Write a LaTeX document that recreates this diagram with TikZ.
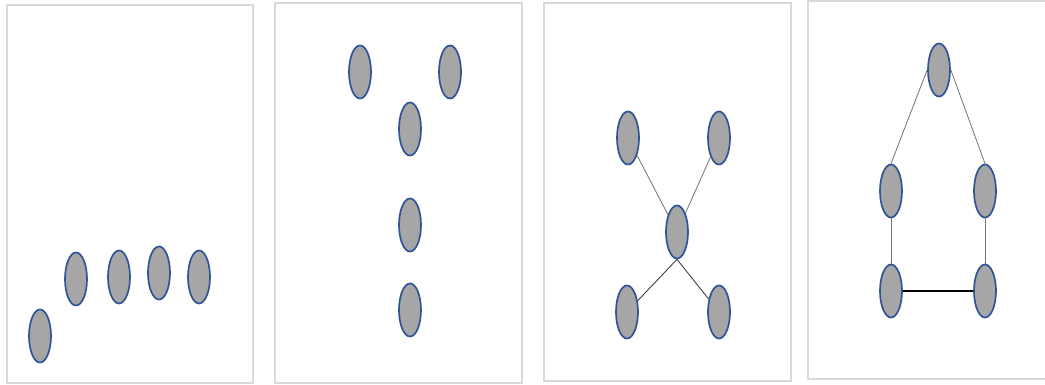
\documentclass[tikz,border=0pt]{standalone}
\usetikzlibrary{shapes.geometric}
\definecolor{panelgray}{HTML}{D9D9D9}
\definecolor{nodefill}{HTML}{A6A6A6}
\definecolor{nodeline}{HTML}{2F5597}
\begin{document}
\begin{tikzpicture}[x=1pt,y=-1pt,
  blob/.style={ellipse,draw=nodeline,fill=nodefill,line width=1.7pt,minimum width=22pt,minimum height=53pt,inner sep=0pt},
  panel/.style={draw=panelgray,line width=1.8pt},
  lite/.style={draw=black!55,line width=0.8pt},
  dark/.style={draw=black!75,line width=0.9pt},
  blk/.style={draw=black,line width=1.1pt}]
\useasboundingbox (0,0) rectangle (1045,385);
% panels
\draw[panel] (7,5) rectangle (253,383);
\draw[panel] (275,3) rectangle (522,383);
\draw[panel] (544,3) rectangle (791,381);
\draw[panel] (1050,1) -- (808,1) -- (808,379) -- (1050,379);
% panel 1
\node[blob] (a1) at (40,336) {};
\node[blob] (a2) at (76,279) {};
\node[blob] (a3) at (119,277) {};
\node[blob] (a4) at (159,273) {};
\node[blob] (a5) at (199,277) {};
% panel 2
\node[blob] (b1) at (360,72) {};
\node[blob] (b2) at (450,72) {};
\node[blob] (b3) at (410,129) {};
\node[blob] (b4) at (410,225) {};
\node[blob] (b5) at (410,310) {};
% panel 3
\node[blob] (c1) at (628,138) {};
\node[blob] (c2) at (719,138) {};
\node[blob] (c3) at (677,232) {};
\node[blob] (c4) at (627,312) {};
\node[blob] (c5) at (719,312) {};
\draw[lite] (c1) -- (c3);
\draw[lite] (c2) -- (c3);
\draw[dark] (c3.south) -- (c4);
\draw[dark] (c3.south) -- (c5);
% panel 4
\node[blob] (d1) at (939,70) {};
\node[blob] (d2) at (891,191) {};
\node[blob] (d3) at (985,191) {};
\node[blob] (d4) at (891,291) {};
\node[blob] (d5) at (985,291) {};
\draw[lite] (d1.west) -- (d2.north);
\draw[lite] (d1.east) -- (d3.north);
\draw[lite] (d2) -- (d4);
\draw[lite] (d3) -- (d5);
\draw[blk] (d4) -- (d5);
\end{tikzpicture}
\end{document}
